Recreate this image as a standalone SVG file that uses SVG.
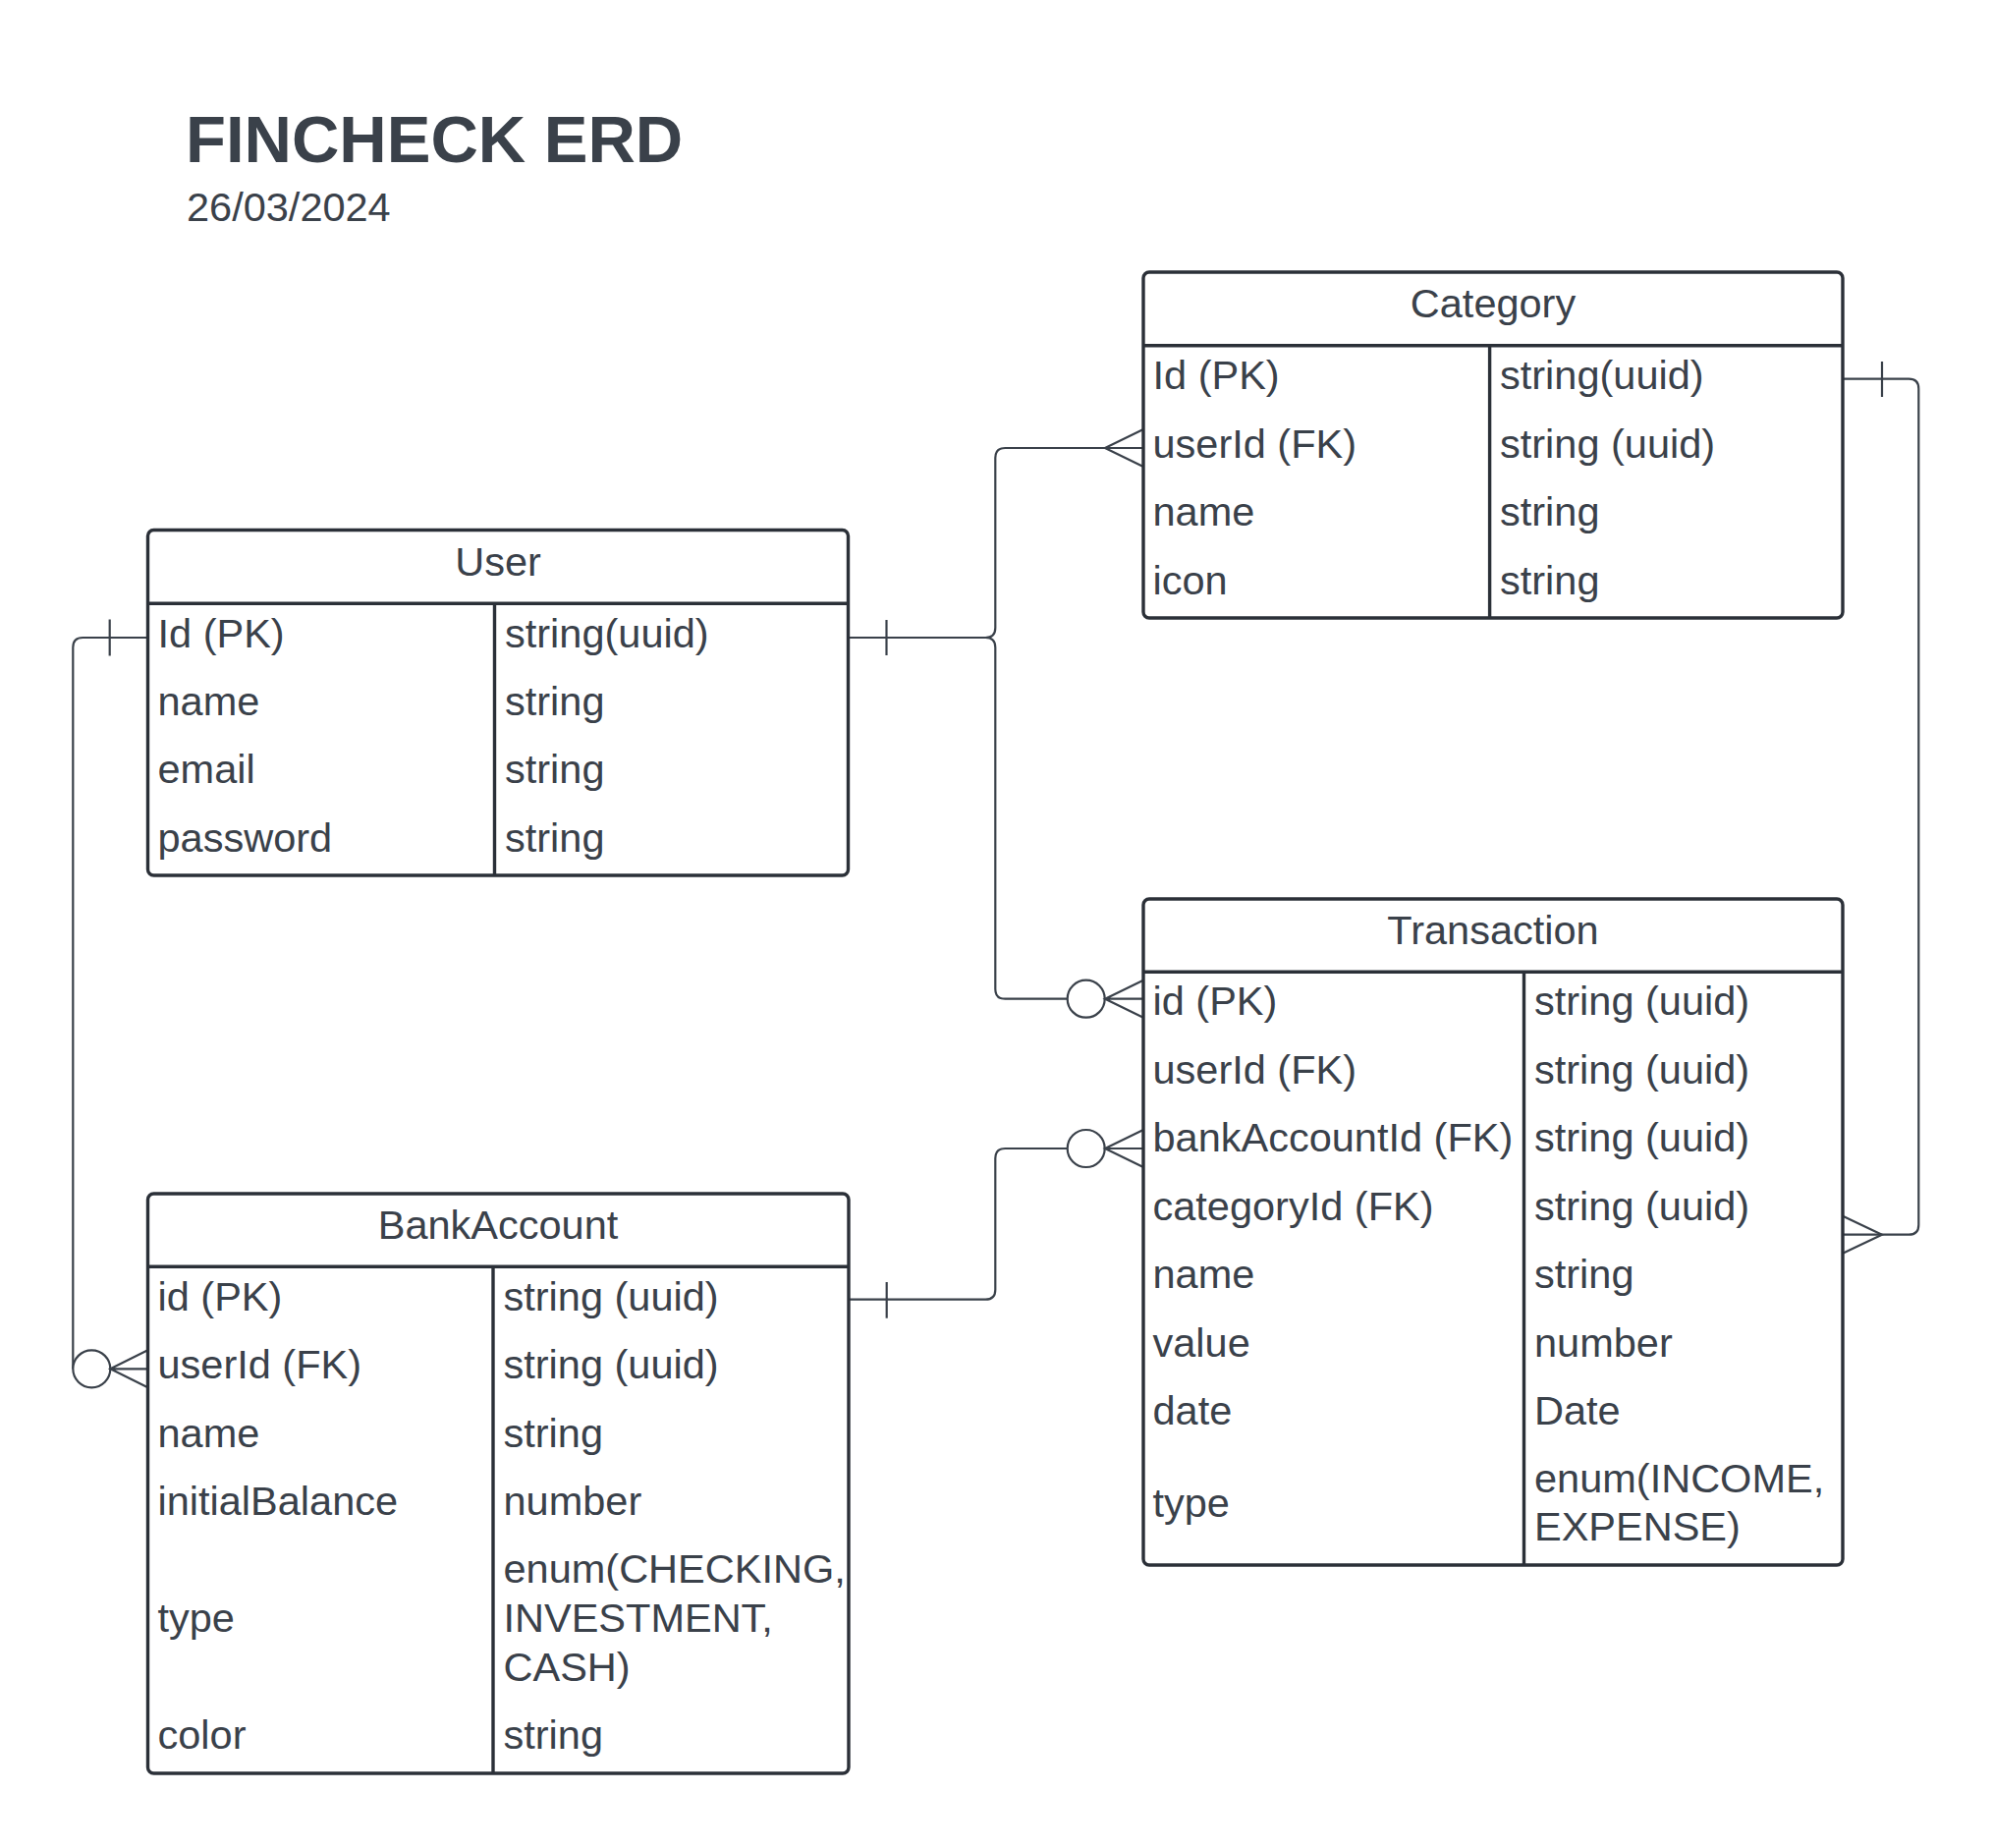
<svg xmlns="http://www.w3.org/2000/svg" width="2029" height="1881" viewBox="0 0 2029 1881">
<style>
.bg{fill:#ffffff}
.box{fill:#ffffff;stroke:#2b3038;stroke-width:3.4}
.sep{stroke:#2b3038;stroke-width:3.4;fill:none}
.t{font-family:"Liberation Sans",Arial,sans-serif;font-size:41.5px;fill:#3a414a}
.h{text-anchor:middle}
.title{font-family:"Liberation Sans",Arial,sans-serif;font-size:67px;font-weight:bold;fill:#3a414a}
.date{font-family:"Liberation Sans",Arial,sans-serif;font-size:41.5px;fill:#3a414a}
.conn{fill:none;stroke:#3a414a;stroke-width:2.2}
.circ{fill:#ffffff;stroke:#3a414a;stroke-width:2.2}
</style>
<rect class="bg" x="0" y="0" width="2029" height="1881"/>
<text class="title" x="189" y="165">FINCHECK ERD</text>
<text class="date" x="190" y="225">26/03/2024</text>

<g id="connectors">
  <!-- User Id -> Category userId -->
  <g id="c-user-category">
    <path class="conn" d="M863.5,649 H1003.3 Q1013.3,649 1013.3,639 V466 Q1013.3,456 1023.3,456 H1164"/>
    <path class="conn" d="M902.5,631 V667"/>
    <path class="conn" d="M1164,437 L1125,456 L1164,475"/>
  </g>
  <!-- User Id -> Transaction id -->
  <g id="c-user-transaction">
    <path class="conn" d="M863.5,649 H1003.3 Q1013.3,649 1013.3,659 V1006.7 Q1013.3,1016.7 1023.3,1016.7 H1086.7"/>
    <circle class="circ" cx="1105.7" cy="1016.7" r="19"/>
    <path class="conn" d="M1124.7,1016.7 H1164 M1164,997.7 L1125,1016.7 L1164,1035.7"/>
  </g>
  <!-- BankAccount id -> Transaction bankAccountId -->
  <g id="c-bank-transaction">
    <path class="conn" d="M864,1322.7 H1003.3 Q1013.3,1322.7 1013.3,1312.7 V1179 Q1013.3,1169 1023.3,1169 H1086.7"/>
    <path class="conn" d="M902.7,1305 V1341.7"/>
    <circle class="circ" cx="1105.7" cy="1169" r="19"/>
    <path class="conn" d="M1124.7,1169 H1164 M1164,1150 L1125,1169 L1164,1188"/>
  </g>
  <!-- User Id -> BankAccount userId -->
  <g id="c-user-bank">
    <path class="conn" d="M150.5,649 H84.3 Q74.3,649 74.3,659 V1393.3"/>
    <path class="conn" d="M111.7,630.5 V667.5"/>
    <circle class="circ" cx="93.3" cy="1393.3" r="19"/>
    <path class="conn" d="M112.3,1393.3 H150.5 M150.5,1374.3 L112.3,1393.3 L150.5,1412.3"/>
  </g>
  <!-- Category Id -> Transaction categoryId -->
  <g id="c-category-transaction">
    <path class="conn" d="M1876,385.7 H1943.3 Q1953.3,385.7 1953.3,395.7 V1246.7 Q1953.3,1256.7 1943.3,1256.7 H1876"/>
    <path class="conn" d="M1916,368 V404"/>
    <path class="conn" d="M1876,1237.7 L1916,1256.7 L1876,1275.7"/>
  </g>
</g>

<g id="node-user">
  <rect class="box" x="150.5" y="539.5" width="713" height="351.5" rx="6"/>
  <path class="sep" d="M150.5,614.3 H863.5 M503.5,614.3 V891"/>
  <text class="t h" x="507" y="585.5">User</text>
  <text class="t" x="160.5" y="658.5">Id (PK)</text>
  <text class="t" x="160.5" y="728">name</text>
  <text class="t" x="160.5" y="797.4">email</text>
  <text class="t" x="160.5" y="866.9">password</text>
  <text class="t" x="514" y="658.5">string(uuid)</text>
  <text class="t" x="514" y="728">string</text>
  <text class="t" x="514" y="797.4">string</text>
  <text class="t" x="514" y="866.9">string</text>
</g>

<g id="node-category">
  <rect class="box" x="1164" y="277" width="712" height="352" rx="6"/>
  <path class="sep" d="M1164,351.7 H1876 M1516.6,351.7 V629"/>
  <text class="t h" x="1520" y="323">Category</text>
  <text class="t" x="1173.5" y="396.2">Id (PK)</text>
  <text class="t" x="1173.5" y="465.6">userId (FK)</text>
  <text class="t" x="1173.5" y="535.1">name</text>
  <text class="t" x="1173.5" y="604.5">icon</text>
  <text class="t" x="1527" y="396.2">string(uuid)</text>
  <text class="t" x="1527" y="465.6">string (uuid)</text>
  <text class="t" x="1527" y="535.1">string</text>
  <text class="t" x="1527" y="604.5">string</text>
</g>

<g id="node-transaction">
  <rect class="box" x="1164" y="915" width="712" height="678" rx="6"/>
  <path class="sep" d="M1164,989.3 H1876 M1551.5,989.3 V1593"/>
  <text class="t h" x="1520" y="961">Transaction</text>
  <text class="t" x="1173.5" y="1033.3">id (PK)</text>
  <text class="t" x="1173.5" y="1102.8">userId (FK)</text>
  <text class="t" x="1173.5" y="1172.2">bankAccountId (FK)</text>
  <text class="t" x="1173.5" y="1241.7">categoryId (FK)</text>
  <text class="t" x="1173.5" y="1311.1">name</text>
  <text class="t" x="1173.5" y="1380.6">value</text>
  <text class="t" x="1173.5" y="1450">date</text>
  <text class="t" x="1173.5" y="1543.5">type</text>
  <text class="t" x="1562" y="1033.3">string (uuid)</text>
  <text class="t" x="1562" y="1102.8">string (uuid)</text>
  <text class="t" x="1562" y="1172.2">string (uuid)</text>
  <text class="t" x="1562" y="1241.7">string (uuid)</text>
  <text class="t" x="1562" y="1311.1">string</text>
  <text class="t" x="1562" y="1380.6">number</text>
  <text class="t" x="1562" y="1450">Date</text>
  <text class="t" x="1562" y="1518.6">enum(INCOME,</text>
  <text class="t" x="1562" y="1567.8">EXPENSE)</text>
</g>

<g id="node-bankaccount">
  <rect class="box" x="150.5" y="1215" width="713.5" height="590" rx="6"/>
  <path class="sep" d="M150.5,1289.3 H864 M502,1289.3 V1805"/>
  <text class="t h" x="507" y="1261">BankAccount</text>
  <text class="t" x="160.5" y="1333.6">id (PK)</text>
  <text class="t" x="160.5" y="1403">userId (FK)</text>
  <text class="t" x="160.5" y="1472.5">name</text>
  <text class="t" x="160.5" y="1541.9">initialBalance</text>
  <text class="t" x="160.5" y="1661">type</text>
  <text class="t" x="160.5" y="1780">color</text>
  <text class="t" x="512.5" y="1333.6">string (uuid)</text>
  <text class="t" x="512.5" y="1403">string (uuid)</text>
  <text class="t" x="512.5" y="1472.5">string</text>
  <text class="t" x="512.5" y="1541.9">number</text>
  <text class="t" x="512.5" y="1610.5">enum(CHECKING,</text>
  <text class="t" x="512.5" y="1660.5">INVESTMENT,</text>
  <text class="t" x="512.5" y="1710.5">CASH)</text>
  <text class="t" x="512.5" y="1780">string</text>
</g>
</svg>
